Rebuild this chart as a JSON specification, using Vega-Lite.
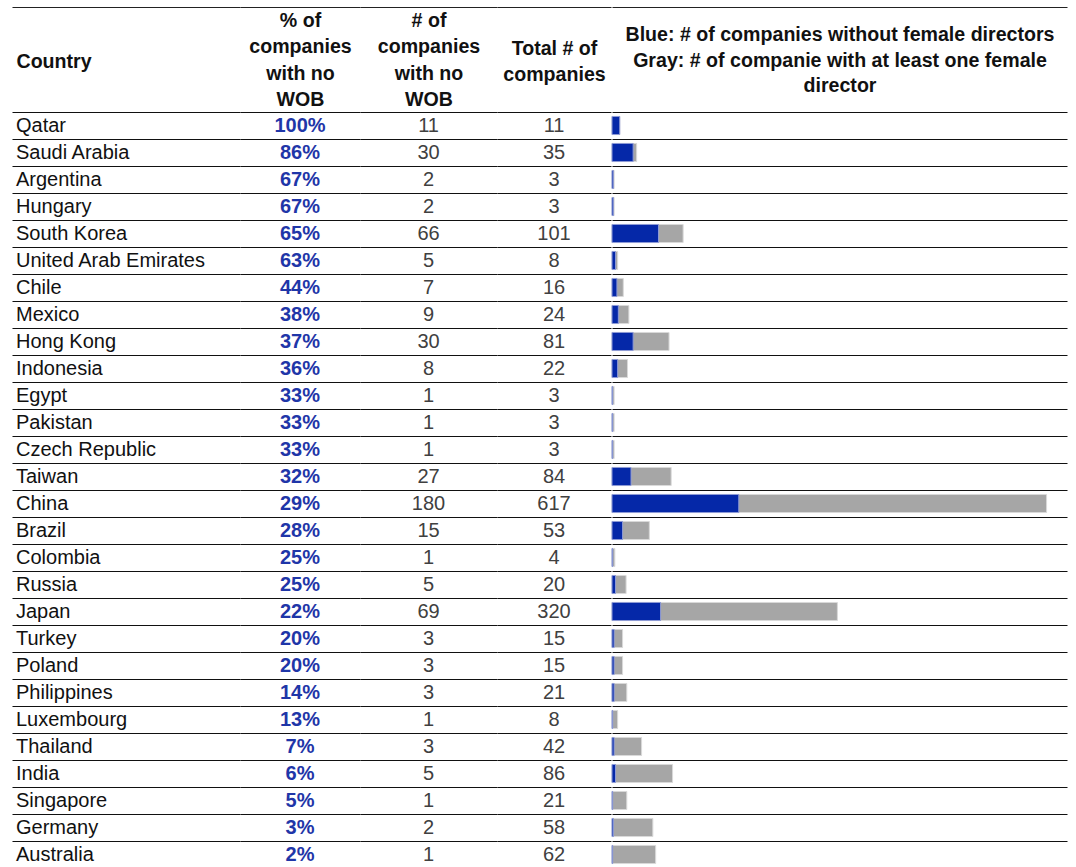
{
  "$schema": "https://vega.github.io/schema/vega-lite/v6.json",
  "padding": {"left": 12, "top": 7, "right": 10, "bottom": 0},
  "background": "white",
  "spacing": 0,
  "config": {
    "view": {"stroke": null},
    "font": "Liberation Sans",
    "axisX": {
      "orient": "top",
      "offset": 105,
      "domain": true,
      "domainColor": "#222222",
      "domainWidth": 1.2,
      "labels": false,
      "ticks": false,
      "grid": false,
      "titleBaseline": "middle",
      "titleFont": "Liberation Sans",
      "titleFontSize": 19.6,
      "titleFontWeight": "bold",
      "titleLineHeight": 26.3,
      "titleColor": "#111111",
      "titlePadding": 0
    },
    "axisY": {
      "grid": true,
      "gridColor": "#111111",
      "gridWidth": 1.2,
      "tickBand": "extent",
      "labels": false,
      "ticks": false,
      "domain": false,
      "title": null
    }
  },
  "data": {
    "values": [
      {"country": "Qatar", "pct": 1.00, "nowob": 11, "total": 11},
      {"country": "Saudi Arabia", "pct": 0.86, "nowob": 30, "total": 35},
      {"country": "Argentina", "pct": 0.67, "nowob": 2, "total": 3},
      {"country": "Hungary", "pct": 0.67, "nowob": 2, "total": 3},
      {"country": "South Korea", "pct": 0.65, "nowob": 66, "total": 101},
      {"country": "United Arab Emirates", "pct": 0.63, "nowob": 5, "total": 8},
      {"country": "Chile", "pct": 0.44, "nowob": 7, "total": 16},
      {"country": "Mexico", "pct": 0.38, "nowob": 9, "total": 24},
      {"country": "Hong Kong", "pct": 0.37, "nowob": 30, "total": 81},
      {"country": "Indonesia", "pct": 0.36, "nowob": 8, "total": 22},
      {"country": "Egypt", "pct": 0.33, "nowob": 1, "total": 3},
      {"country": "Pakistan", "pct": 0.33, "nowob": 1, "total": 3},
      {"country": "Czech Republic", "pct": 0.33, "nowob": 1, "total": 3},
      {"country": "Taiwan", "pct": 0.32, "nowob": 27, "total": 84},
      {"country": "China", "pct": 0.29, "nowob": 180, "total": 617},
      {"country": "Brazil", "pct": 0.28, "nowob": 15, "total": 53},
      {"country": "Colombia", "pct": 0.25, "nowob": 1, "total": 4},
      {"country": "Russia", "pct": 0.25, "nowob": 5, "total": 20},
      {"country": "Japan", "pct": 0.22, "nowob": 69, "total": 320},
      {"country": "Turkey", "pct": 0.20, "nowob": 3, "total": 15},
      {"country": "Poland", "pct": 0.20, "nowob": 3, "total": 15},
      {"country": "Philippines", "pct": 0.14, "nowob": 3, "total": 21},
      {"country": "Luxembourg", "pct": 0.13, "nowob": 1, "total": 8},
      {"country": "Thailand", "pct": 0.07, "nowob": 3, "total": 42},
      {"country": "India", "pct": 0.06, "nowob": 5, "total": 86},
      {"country": "Singapore", "pct": 0.05, "nowob": 1, "total": 21},
      {"country": "Germany", "pct": 0.03, "nowob": 2, "total": 58},
      {"country": "Australia", "pct": 0.02, "nowob": 1, "total": 62}
    ]
  },
  "hconcat": [
    {
      "width": 228,
      "height": 756,
      "mark": {"type": "text", "align": "left", "baseline": "middle", "dx": 4, "fontSize": 20, "color": "#111111"},
      "encoding": {
        "x": {"datum": 0, "type": "quantitative", "scale": {"domain": [0, 1], "nice": false},
              "axis": {"title": "Country", "titleAnchor": "start", "titleAlign": "left", "titleX": 4, "titleY": 54, "grid": false}},
        "y": {"field": "country", "type": "nominal", "sort": null, "scale": {"paddingInner": 0, "paddingOuter": 0},
              "axis": {"grid": true, "tickBand": "extent", "labels": false, "ticks": false, "domain": false, "title": null}},
        "text": {"field": "country", "type": "nominal"}
      }
    },
    {
      "width": 120,
      "height": 756,
      "mark": {"type": "text", "align": "center", "baseline": "middle", "fontSize": 20, "fontWeight": "bold", "color": "#1F36A8"},
      "encoding": {
        "x": {"datum": 0.5, "type": "quantitative", "scale": {"domain": [0, 1], "nice": false},
              "axis": {"title": ["% of", "companies", "with no", "WOB"], "titleY": 13.5, "grid": false}},
        "y": {"field": "country", "type": "nominal", "sort": null, "scale": {"paddingInner": 0, "paddingOuter": 0},
              "axis": {"grid": true, "tickBand": "extent", "labels": false, "ticks": false, "domain": false, "title": null}},
        "text": {"field": "pct", "type": "quantitative", "format": ".0%"}
      }
    },
    {
      "width": 137,
      "height": 756,
      "mark": {"type": "text", "align": "center", "baseline": "middle", "fontSize": 20, "color": "#404040"},
      "encoding": {
        "x": {"datum": 0.5, "type": "quantitative", "scale": {"domain": [0, 1], "nice": false},
              "axis": {"title": ["# of", "companies", "with no", "WOB"], "titleY": 13.5, "grid": false}},
        "y": {"field": "country", "type": "nominal", "sort": null, "scale": {"paddingInner": 0, "paddingOuter": 0},
              "axis": {"grid": true, "tickBand": "extent", "labels": false, "ticks": false, "domain": false, "title": null}},
        "text": {"field": "nowob", "type": "quantitative"}
      }
    },
    {
      "width": 114,
      "height": 756,
      "mark": {"type": "text", "align": "center", "baseline": "middle", "fontSize": 20, "color": "#404040"},
      "encoding": {
        "x": {"datum": 0.5, "type": "quantitative", "scale": {"domain": [0, 1], "nice": false},
              "axis": {"title": ["Total # of", "companies"], "titleY": 41, "grid": false}},
        "y": {"field": "country", "type": "nominal", "sort": null, "scale": {"paddingInner": 0, "paddingOuter": 0},
              "axis": {"grid": true, "tickBand": "extent", "labels": false, "ticks": false, "domain": false, "title": null}},
        "text": {"field": "total", "type": "quantitative"}
      }
    },
    {
      "width": 455,
      "height": 756,
      "encoding": {
        "y": {"field": "country", "type": "nominal", "sort": null, "scale": {"paddingInner": 0, "paddingOuter": 0},
              "axis": {"grid": true, "tickBand": "extent", "labels": false, "ticks": false, "domain": false, "title": null}}
      },
      "layer": [
        {
          "mark": {"type": "bar", "height": {"band": 0.67}, "color": "#A6A6A6", "stroke": "#D9D9D9", "strokeWidth": 1},
          "encoding": {
            "x": {"field": "total", "type": "quantitative", "scale": {"domain": [0, 646], "nice": false, "zero": true},
                  "axis": {"title": ["Blue: # of companies without female directors", "Gray: # of companie with at least one female", "director"], "titleY": 27.5, "titleLineHeight": 25.7, "grid": false}}
          }
        },
        {
          "mark": {"type": "bar", "height": {"band": 0.67}, "color": "#0528A8", "stroke": "#8F9BD6", "strokeWidth": 1},
          "encoding": {
            "x": {"field": "nowob", "type": "quantitative",
                  "axis": {"title": ["Blue: # of companies without female directors", "Gray: # of companie with at least one female", "director"], "titleY": 27.5, "titleLineHeight": 25.7, "grid": false}}
          }
        }
      ]
    }
  ]
}
